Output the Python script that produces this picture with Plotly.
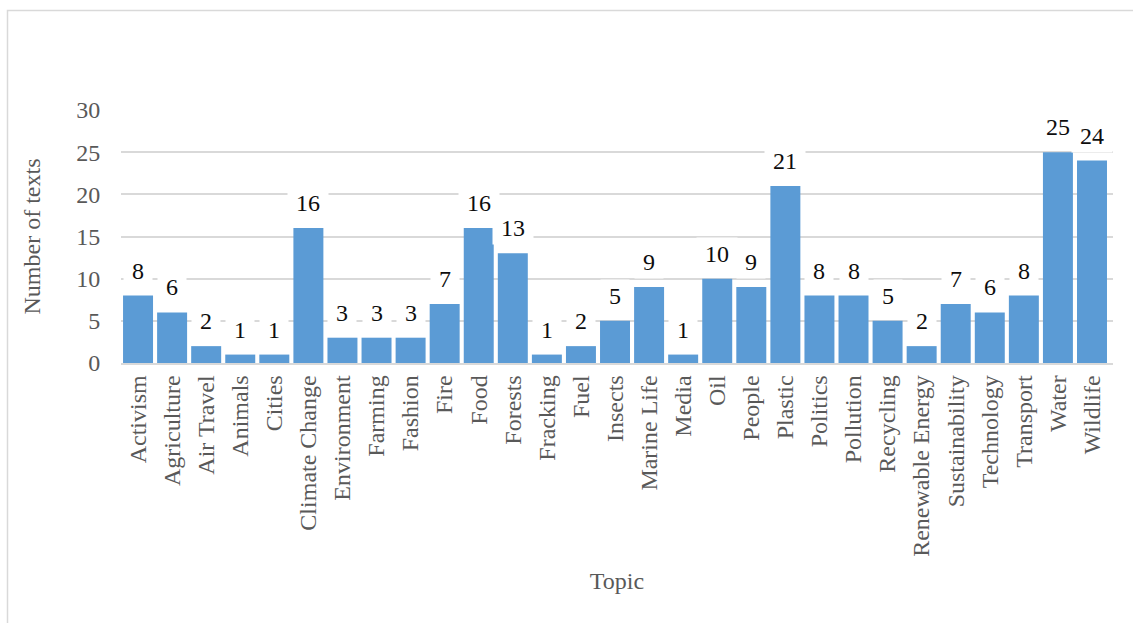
import plotly.graph_objects as go

# Topics and number of texts per topic
topics = [
    "Activism", "Agriculture", "Air Travel", "Animals", "Cities",
    "Climate Change", "Environment", "Farming", "Fashion", "Fire",
    "Food", "Forests", "Fracking", "Fuel", "Insects", "Marine Life",
    "Media", "Oil", "People", "Plastic", "Politics", "Pollution",
    "Recycling", "Renewable Energy", "Sustainability", "Technology",
    "Transport", "Water", "Wildlife",
]
counts = [8, 6, 2, 1, 1, 16, 3, 3, 3, 7, 16, 13, 1, 2, 5, 9, 1, 10, 9,
          21, 8, 8, 5, 2, 7, 6, 8, 25, 24]
y_ticks = [0, 5, 10, 15, 20, 25, 30]

FONT = "Liberation Serif"
GREY = "#595959"
GRID = "#d9d9d9"
BAR = "#5b9bd5"

W, H = 1133, 623
ML, MR, MT, MB = 121, 20, 110, 260
pw, ph = W - ML - MR, H - MT - MB

fig = go.Figure(go.Bar(
    x=topics, y=counts, marker=dict(color=BAR, line=dict(width=0)),
    hoverinfo="x+y",
))

# Data labels with white boxes, drawn above each bar
for t, v in zip(topics, counts):
    s = str(v)
    fig.add_annotation(
        x=t, y=v, text=s, showarrow=False, xref="x", yref="y",
        yanchor="bottom", yshift=8, bgcolor="white", borderpad=3,
        width=12 * len(s) + 10,
        font=dict(family=FONT, size=24, color="#0d0d0d"),
    )

# Light frame around the chart area
fig.add_shape(
    type="rect", xref="paper", yref="paper",
    x0=(7.5 - ML) / pw, x1=(W + 20 - ML) / pw,
    y0=-(H + 20 - MT - ph) / ph, y1=(H - 10.5 - MB) / ph,
    line=dict(color=GRID, width=1.5), fillcolor="rgba(0,0,0,0)", layer="below",
)

fig.update_layout(
    width=W, height=H,
    margin=dict(l=ML, r=MR, t=MT, b=MB, pad=0),
    paper_bgcolor="white", plot_bgcolor="white",
    bargap=0.12, showlegend=False,
    font=dict(family=FONT, size=24, color=GREY),
)
fig.update_xaxes(
    type="category", tickangle=-90, showgrid=False,
    showline=True, linecolor=GRID, linewidth=1.5,
    ticks="outside", ticklen=1, tickcolor="rgba(0,0,0,0)",
    tickfont=dict(family=FONT, size=24, color=GREY),
    title=dict(text="Topic", standoff=16,
               font=dict(family=FONT, size=24, color=GREY)),
    automargin=False,
)
fig.update_yaxes(
    range=[0, 30], tickvals=y_ticks, showgrid=True, gridcolor=GRID,
    gridwidth=1.5, zeroline=False, showline=False,
    ticks="outside", ticklen=15, tickcolor="rgba(0,0,0,0)",
    tickfont=dict(family=FONT, size=24, color=GREY),
    title=dict(text="Number of texts", standoff=28,
               font=dict(family=FONT, size=24, color=GREY)),
    automargin=False,
)

fig.write_html("out.html")
